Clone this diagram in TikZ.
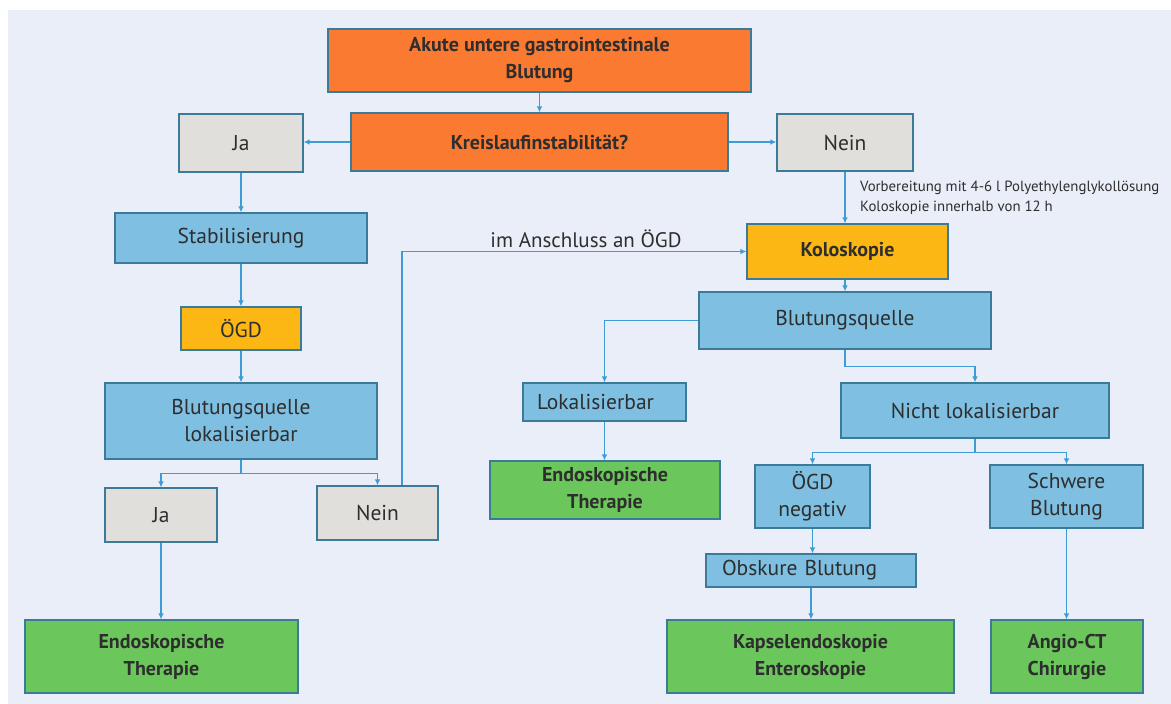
\documentclass[tikz,border=0pt]{standalone}
\usepackage{fontspec}
\setmainfont{PT Sans}
\usetikzlibrary{arrows.meta,calc}
\definecolor{panel}{HTML}{E9EEF8}
\definecolor{orng}{HTML}{F97A30}
\definecolor{grayb}{HTML}{E0DFDC}
\definecolor{blub}{HTML}{7EBFE2}
\definecolor{yel}{HTML}{FDB714}
\definecolor{grn}{HTML}{6BC75B}
\definecolor{bordc}{HTML}{3C7A99}
\definecolor{arr}{HTML}{3D9BD6}
\definecolor{txt}{HTML}{2E2E2E}
\tikzset{
 bx/.style={draw=bordc, line width=1.1pt, inner sep=0pt, align=center, text=txt, font=\fontsize{21.5}{27}\selectfont},
 boldtxt/.style={font=\fontsize{20}{27}\selectfont\bfseries},
 orangebox/.style={bx, boldtxt, fill=orng},
 graybox/.style={bx, fill=grayb},
 bluebox/.style={bx, fill=blub},
 yellowbox/.style={bx, fill=yel},
 greenbox/.style={bx, boldtxt, fill=grn},
 conn/.style={draw=arr, line width=1.6pt},
 arw/.style={conn, -{Latex[length=6pt,width=5.5pt]}},
 lbl/.style={inner sep=0pt, text=txt},
}
\begin{document}
\begin{tikzpicture}[x=1pt,y=-1pt]
\useasboundingbox (0,0) rectangle (1171,704);
\fill[white] (0,0) rectangle (1171,704);
\fill[panel] (8,10) rectangle (1171,704);

% nodes
\node[orangebox, minimum width=423pt, minimum height=63pt] (akute) at (539.5,60.5) {Akute untere gastrointestinale\\Blutung};
\node[orangebox, minimum width=377pt, minimum height=58pt] (kreis) at (539.5,142) {Kreislaufinstabilität?};
\node[graybox, minimum width=124pt, minimum height=58pt] (ja1) at (241,143) {Ja};
\node[graybox, minimum width=136pt, minimum height=57pt] (nein1) at (845,142.5) {Nein};
\node[bluebox, minimum width=252pt, minimum height=50pt] (stab) at (241,238) {Stabilisierung};
\node[yellowbox, boldtxt, minimum width=201pt, minimum height=55pt] (kolo) at (847.5,251.5) {Koloskopie};
\node[yellowbox, minimum width=120pt, minimum height=43pt] (oegd) at (241,328.5) {ÖGD};
\node[bluebox, minimum width=272pt, minimum height=76pt] (bql) at (241,421) {Blutungsquelle\\lokalisierbar};
\node[graybox, minimum width=112pt, minimum height=54pt] (ja2) at (161,515) {Ja};
\node[graybox, minimum width=121pt, minimum height=54pt] (nein2) at (377.5,513) {Nein};
\node[greenbox, minimum width=273pt, minimum height=73pt] (endoL) at (161.5,656.5) {Endoskopische\\Therapie};
\node[bluebox, minimum width=292pt, minimum height=57pt] (bq) at (845,320.5) {Blutungsquelle};
\node[bluebox, align=left, inner xsep=14pt, text width=135pt, minimum height=38pt] (lok) at (604.5,402) {Lokalisierbar};
\node[bluebox, minimum width=268pt, minimum height=55pt] (nlok) at (975,410.5) {Nicht lokalisierbar};
\node[greenbox, minimum width=230pt, minimum height=58pt] (endoM) at (605,490) {Endoskopische\\Therapie};
\node[bluebox, minimum width=115pt, minimum height=63pt] (oneg) at (812.5,496.5) {ÖGD\\negativ};
\node[bluebox, minimum width=153pt, minimum height=63pt] (schw) at (1066.5,496.5) {Schwere\\Blutung};
\node[bluebox, align=left, inner xsep=16pt, text width=178pt, minimum height=33pt] (obsk) at (811,570.5) {Obskure Blutung};
\node[greenbox, minimum width=287pt, minimum height=73pt] (kapsel) at (810.5,656.5) {Kapselendoskopie\\Enteroskopie};
\node[greenbox, minimum width=152pt, minimum height=73pt] (angio) at (1067,656.5) {Angio-CT\\Chirurgie};

% labels
\node[lbl, font=\fontsize{21}{26}\selectfont] (anschl) at (586,239) {im Anschluss an ÖGD};
\node[lbl, anchor=west, align=left, font=\fontsize{14.8}{20}\selectfont] (note) at (860,198) {Vorbereitung mit 4-6 l Polyethylenglykollösung\\Koloskopie innerhalb von 12 h};

% connectors
\draw[arw] (akute) -- (kreis);
\draw[arw] (kreis.west) -- (kreis.west -| ja1.east);
\draw[arw] (kreis.east) -- (kreis.east -| nein1.west);
\draw[arw] (ja1) -- (stab);
\draw[arw] (nein1.south) -- (nein1.south |- kolo.north);
\draw[arw] (stab) -- (oegd);
\draw[arw] (oegd) -- (bql);
\draw[arw] (bql.south) -- ++(0,14) -| (ja2.north);
\draw[arw] (bql.south) -- ++(0,14) -| (nein2.north);
\coordinate (n2top) at ($(nein2.north)+(24.5,0)$);
\draw[arw] (n2top) |- (kolo.west);
\draw[arw] (ja2.south) -- (ja2.south |- endoL.north);
\draw[arw] (bq.north |- kolo.south) -- (bq.north);
\draw[arw] (bq.west) -| (lok.north);
\draw[arw] (bq.south) -- ++(0,17) -| (nlok.north);
\draw[arw] (lok.south) -- (lok.south |- endoM.north);
\draw[arw] (nlok.south) -- ++(0,14) -| (oneg.north);
\draw[arw] (nlok.south) -- ++(0,14) -| (schw.north);
\draw[arw] (oneg.south) -- (oneg.south |- obsk.north);
\draw[arw] (obsk.south) -- (obsk.south |- kapsel.north);
\draw[arw] (schw.south) -- (schw.south |- angio.north);
\end{tikzpicture}
\end{document}
